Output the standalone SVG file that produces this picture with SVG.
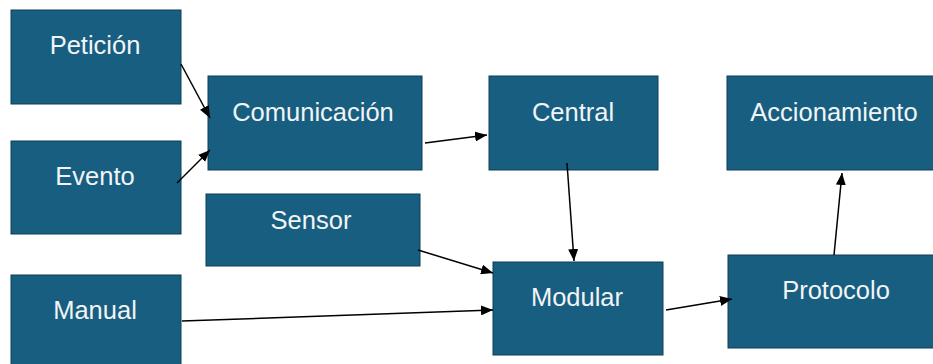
<svg xmlns="http://www.w3.org/2000/svg" width="933" height="364" viewBox="0 0 933 364">
  <style>
    .box { fill: #175E80; stroke: #0E3E56; stroke-width: 1; }
    .lbl { font-family: "Liberation Sans", Arial, sans-serif; font-size: 25.5px; fill: #F2F4F6; text-anchor: middle; }
    .edge { stroke: #000; stroke-width: 1.5; fill: none; marker-end: url(#arrow); }
  </style>
  <defs>
    <marker id="arrow" markerUnits="userSpaceOnUse" markerWidth="12" markerHeight="10" refX="12" refY="5" orient="auto">
      <path d="M0,0 L12,5 L0,10 z" fill="#000"/>
    </marker>
  </defs>
  <rect width="933" height="364" fill="#fff"/>

  <g id="peticion">
    <rect class="box" x="11" y="10" width="170" height="94"/>
    <text class="lbl" x="95" y="54">Petición</text>
  </g>
  <g id="evento">
    <rect class="box" x="11" y="141" width="170" height="93"/>
    <text class="lbl" x="95" y="185">Evento</text>
  </g>
  <g id="manual">
    <rect class="box" x="11" y="275" width="170" height="94"/>
    <text class="lbl" x="95" y="319">Manual</text>
  </g>
  <g id="comunicacion">
    <rect class="box" x="208" y="76" width="214" height="94"/>
    <text class="lbl" x="313" y="121">Comunicación</text>
  </g>
  <g id="sensor">
    <rect class="box" x="206" y="194" width="214" height="72"/>
    <text class="lbl" x="311" y="229">Sensor</text>
  </g>
  <g id="central">
    <rect class="box" x="489" y="76" width="169" height="94"/>
    <text class="lbl" x="573" y="121">Central</text>
  </g>
  <g id="modular">
    <rect class="box" x="493" y="262" width="170" height="93"/>
    <text class="lbl" x="577" y="306">Modular</text>
  </g>
  <g id="accionamiento">
    <rect class="box" x="727" y="76" width="214" height="94"/>
    <text class="lbl" x="834" y="121">Accionamiento</text>
  </g>
  <g id="protocolo">
    <rect class="box" x="728" y="255" width="216" height="93"/>
    <text class="lbl" x="836" y="299">Protocolo</text>
  </g>

  <g id="connectors">
    <line class="edge" x1="181" y1="64" x2="210" y2="118"/>
    <line class="edge" x1="177" y1="183" x2="210" y2="150"/>
    <line class="edge" x1="425" y1="143" x2="487" y2="135"/>
    <line class="edge" x1="567" y1="163" x2="574" y2="261"/>
    <line class="edge" x1="834" y1="255" x2="842" y2="173"/>
    <line class="edge" x1="418" y1="250" x2="493" y2="273"/>
    <line class="edge" x1="182" y1="321" x2="493" y2="310"/>
    <line class="edge" x1="666" y1="310" x2="732" y2="299"/>
  </g>
</svg>
